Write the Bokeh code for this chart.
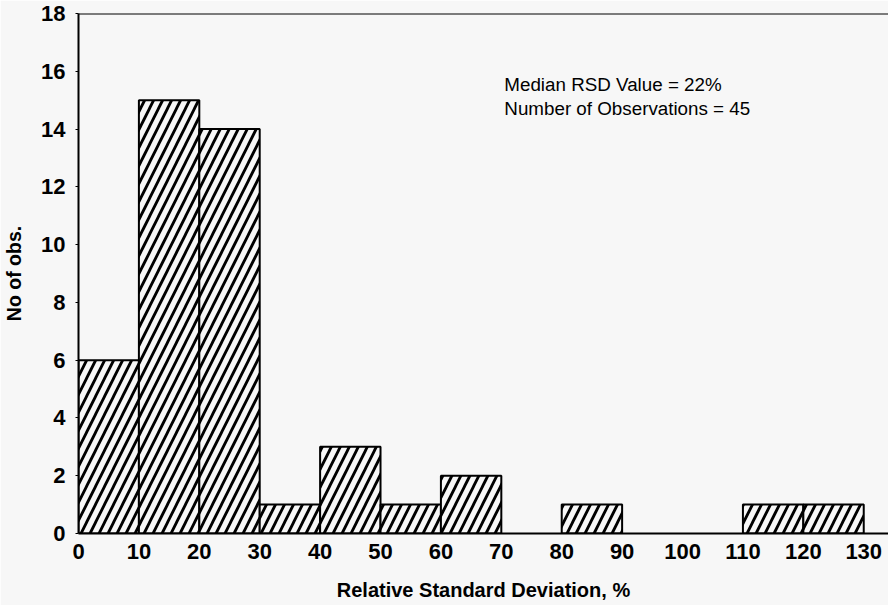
from bokeh.plotting import figure
from bokeh.models import Range1d, FixedTicker, Span
from bokeh.core.properties import value
from bokeh.embed import file_html
from bokeh.resources import INLINE

# Histogram bins (lower edges, %) and counts
bin_left = [0, 10, 20, 30, 40, 50, 60, 70, 80, 90, 100, 110, 120]
bin_width = 10
counts = [6, 15, 14, 1, 3, 1, 2, 0, 1, 0, 0, 1, 1]

x_ticks = [0, 10, 20, 30, 40, 50, 60, 70, 80, 90, 100, 110, 120, 130]
y_ticks = [0, 2, 4, 6, 8, 10, 12, 14, 16, 18]

notes = ["Median RSD Value = 22%", "Number of Observations = 45"]
note_x = [70.5, 70.5]
note_y = [15.55, 14.72]

BG = "#f7f7f7"
FONT = "Liberation Sans"

p = figure(width=888, height=605, output_backend="svg", toolbar_location=None,
           x_range=Range1d(0, 134.1), y_range=Range1d(0, 18),
           background_fill_color=BG, border_fill_color=BG,
           min_border_left=77, min_border_right=0, min_border_top=13,
           min_border_bottom=72)
p.outline_line_color = None
p.grid.visible = False

lefts = [l for l, c in zip(bin_left, counts) if c > 0]
rights = [l + bin_width for l, c in zip(bin_left, counts) if c > 0]
tops = [c for c in counts if c > 0]
p.quad(left=lefts, right=rights, bottom=0, top=tops,
       fill_color=BG, line_color="black", line_width=2,
       hatch_pattern="/", hatch_color="black", hatch_weight=2.8, hatch_scale=18)

# top border of the plot frame
p.add_layout(Span(location=18, dimension="width", line_color="black", line_width=2))

p.text(x=note_x, y=note_y, text=notes, text_font=value(FONT), text_font_size="18.8px",
       text_baseline="middle", text_align="left", text_color="black")

for ax in (p.xaxis[0], p.yaxis[0]):
    ax.axis_line_color = "black"
    ax.axis_line_width = 2
    ax.major_tick_line_color = "black"
    ax.minor_tick_line_color = None
    ax.major_label_text_font = FONT
    ax.major_label_text_font_style = "bold"
    ax.major_label_text_font_size = "22px"
    ax.major_label_text_color = "black"
    ax.axis_label_text_font = FONT
    ax.axis_label_text_font_style = "bold"
    ax.axis_label_text_color = "black"

p.xaxis.ticker = FixedTicker(ticks=x_ticks)
p.yaxis.ticker = FixedTicker(ticks=y_ticks)
p.xaxis.major_tick_out = 0
p.xaxis.major_tick_in = 0
p.yaxis.major_tick_out = 3
p.yaxis.major_tick_in = 0
p.yaxis.major_label_standoff = 10
p.xaxis.major_label_standoff = 10
p.xaxis.axis_label = "Relative Standard Deviation, %"
p.xaxis.axis_label_text_font_size = "20px"
p.xaxis.axis_label_standoff = 17
p.yaxis.axis_label = "No of obs."
p.yaxis.axis_label_text_font_size = "19.5px"
p.yaxis.axis_label_standoff = 13

open("out.html", "w").write(file_html(p, INLINE))
